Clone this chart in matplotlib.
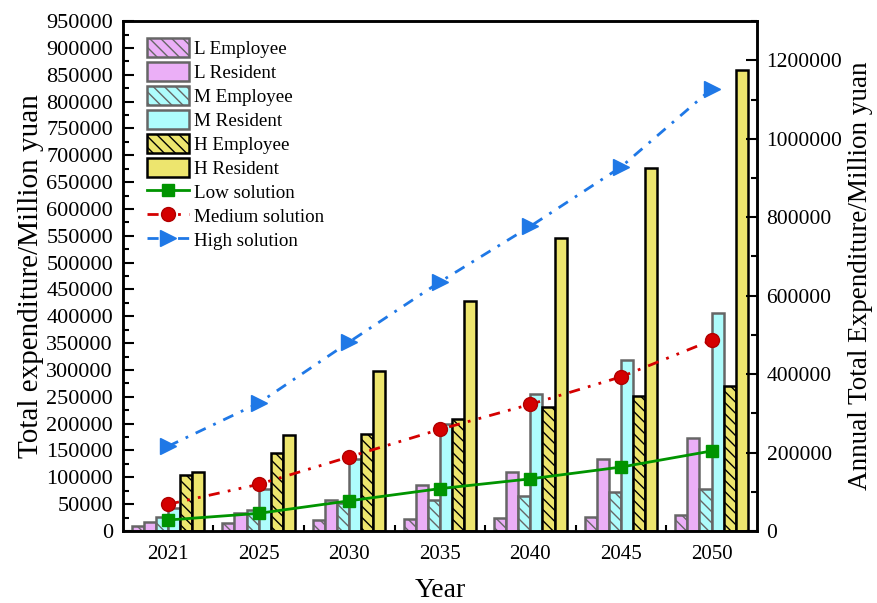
import matplotlib
matplotlib.use("Agg")
import numpy as np
import matplotlib.pyplot as plt
from matplotlib.ticker import MultipleLocator, FormatStrFormatter

plt.rcParams['font.family'] = ['Liberation Serif', 'DejaVu Serif']
plt.rcParams['hatch.linewidth'] = 1.0

years = ['2021', '2025', '2030', '2035', '2040', '2045', '2050']

# total expenditure (left axis), million yuan
l_employee = [10000, 14000, 20000, 22000, 25000, 27000, 30000]
l_resident = [17000, 33000, 57000, 86000, 110000, 135000, 174000]
m_employee = [26000, 40000, 53000, 58000, 66000, 73000, 78000]
m_resident = [42000, 79000, 135000, 199000, 255000, 319000, 406000]
h_employee = [104000, 146000, 181000, 208000, 231000, 251000, 270000]
h_resident = [109000, 179000, 298000, 428000, 546000, 676000, 858000]

# annual total expenditure (right axis), million yuan
low_solution = [28000, 45000, 77000, 108000, 133000, 163000, 204000]
medium_solution = [68000, 119000, 189000, 259000, 323000, 393000, 486000]
high_solution = [216000, 326000, 482000, 635000, 777000, 928000, 1127000]

bar_series = [
    ('L Employee', l_employee, '#ebaff7', '#666666', '\\\\\\'),
    ('L Resident', l_resident, '#ebaff7', '#666666', ''),
    ('M Employee', m_employee, '#aefcfc', '#666666', '\\\\\\'),
    ('M Resident', m_resident, '#aefcfc', '#666666', ''),
    ('H Employee', h_employee, '#ede56e', '#000000', '\\\\\\'),
    ('H Resident', h_resident, '#ede56e', '#000000', ''),
]

fig = plt.figure(figsize=(8.77, 6.03), dpi=100)
ax = fig.add_axes([0.140, 0.1194, 0.723, 0.8456])
ax2 = ax.twinx()

x = np.arange(len(years))
w = 0.8 / 6
for k, (name, vals, fc, ec, hatch) in enumerate(bar_series):
    ax.bar(x + (k - 2.5) * w, vals, width=w, color=fc, edgecolor=ec,
           linewidth=1.8, hatch=hatch, label=name, zorder=2)

ax2.plot(x, low_solution, color='#009400', linestyle='-', linewidth=2,
         marker='s', markersize=8, label='Low solution')
ax2.plot(x, medium_solution, color='#d40000', linestyle=(0, (4, 3, 1, 3, 1, 3)),
         linewidth=2, marker='o', markersize=10, markeredgecolor='#b00000',
         label='Medium solution')
ax2.plot(x, high_solution, color='#1f78e6', linestyle=(0, (4, 3, 1, 3)),
         linewidth=2, marker='>', markersize=11, label='High solution')

ax.set_xlim(-0.5, len(years) - 0.5)
ax.set_ylim(0, 950000)
ax2.set_ylim(0, 1300000)

ax.set_xticks(x)
ax.set_xticklabels(years)
ax.set_xticks(x[:-1] + 0.5, minor=True)
ax.yaxis.set_major_locator(MultipleLocator(50000))
ax.yaxis.set_minor_locator(MultipleLocator(25000))
ax.yaxis.set_major_formatter(FormatStrFormatter('%d'))
ax2.yaxis.set_major_locator(MultipleLocator(200000))
ax2.yaxis.set_minor_locator(MultipleLocator(100000))
ax2.yaxis.set_major_formatter(FormatStrFormatter('%d'))

for a in (ax, ax2):
    a.tick_params(which='major', direction='in', length=8, width=1.5)
    a.tick_params(which='minor', direction='in', length=4, width=1.5)
    for s in a.spines.values():
        s.set_linewidth(1.8)
ax.tick_params(axis='x', labelsize=15, pad=10)
ax.tick_params(axis='y', labelsize=16, pad=7)
ax2.tick_params(axis='y', labelsize=15.5, pad=7)

ax.set_xlabel('Year', fontsize=20, labelpad=10)
ax.set_ylabel('Total expenditure/Million yuan', fontsize=21, labelpad=2)
ax2.set_ylabel('Annual Total Expenditure/Million yuan', fontsize=19.5, labelpad=4)

h1, l1 = ax.get_legend_handles_labels()
h2, l2 = ax2.get_legend_handles_labels()
ax2.legend(h1 + h2, l1 + l2, loc='upper left', bbox_to_anchor=(0.02, 0.99),
           frameon=False, fontsize=13.7, handlelength=2.2, handleheight=1.15,
           labelspacing=0.22, handletextpad=0.3, borderaxespad=0.2)

fig.savefig('out.png', dpi=100)
